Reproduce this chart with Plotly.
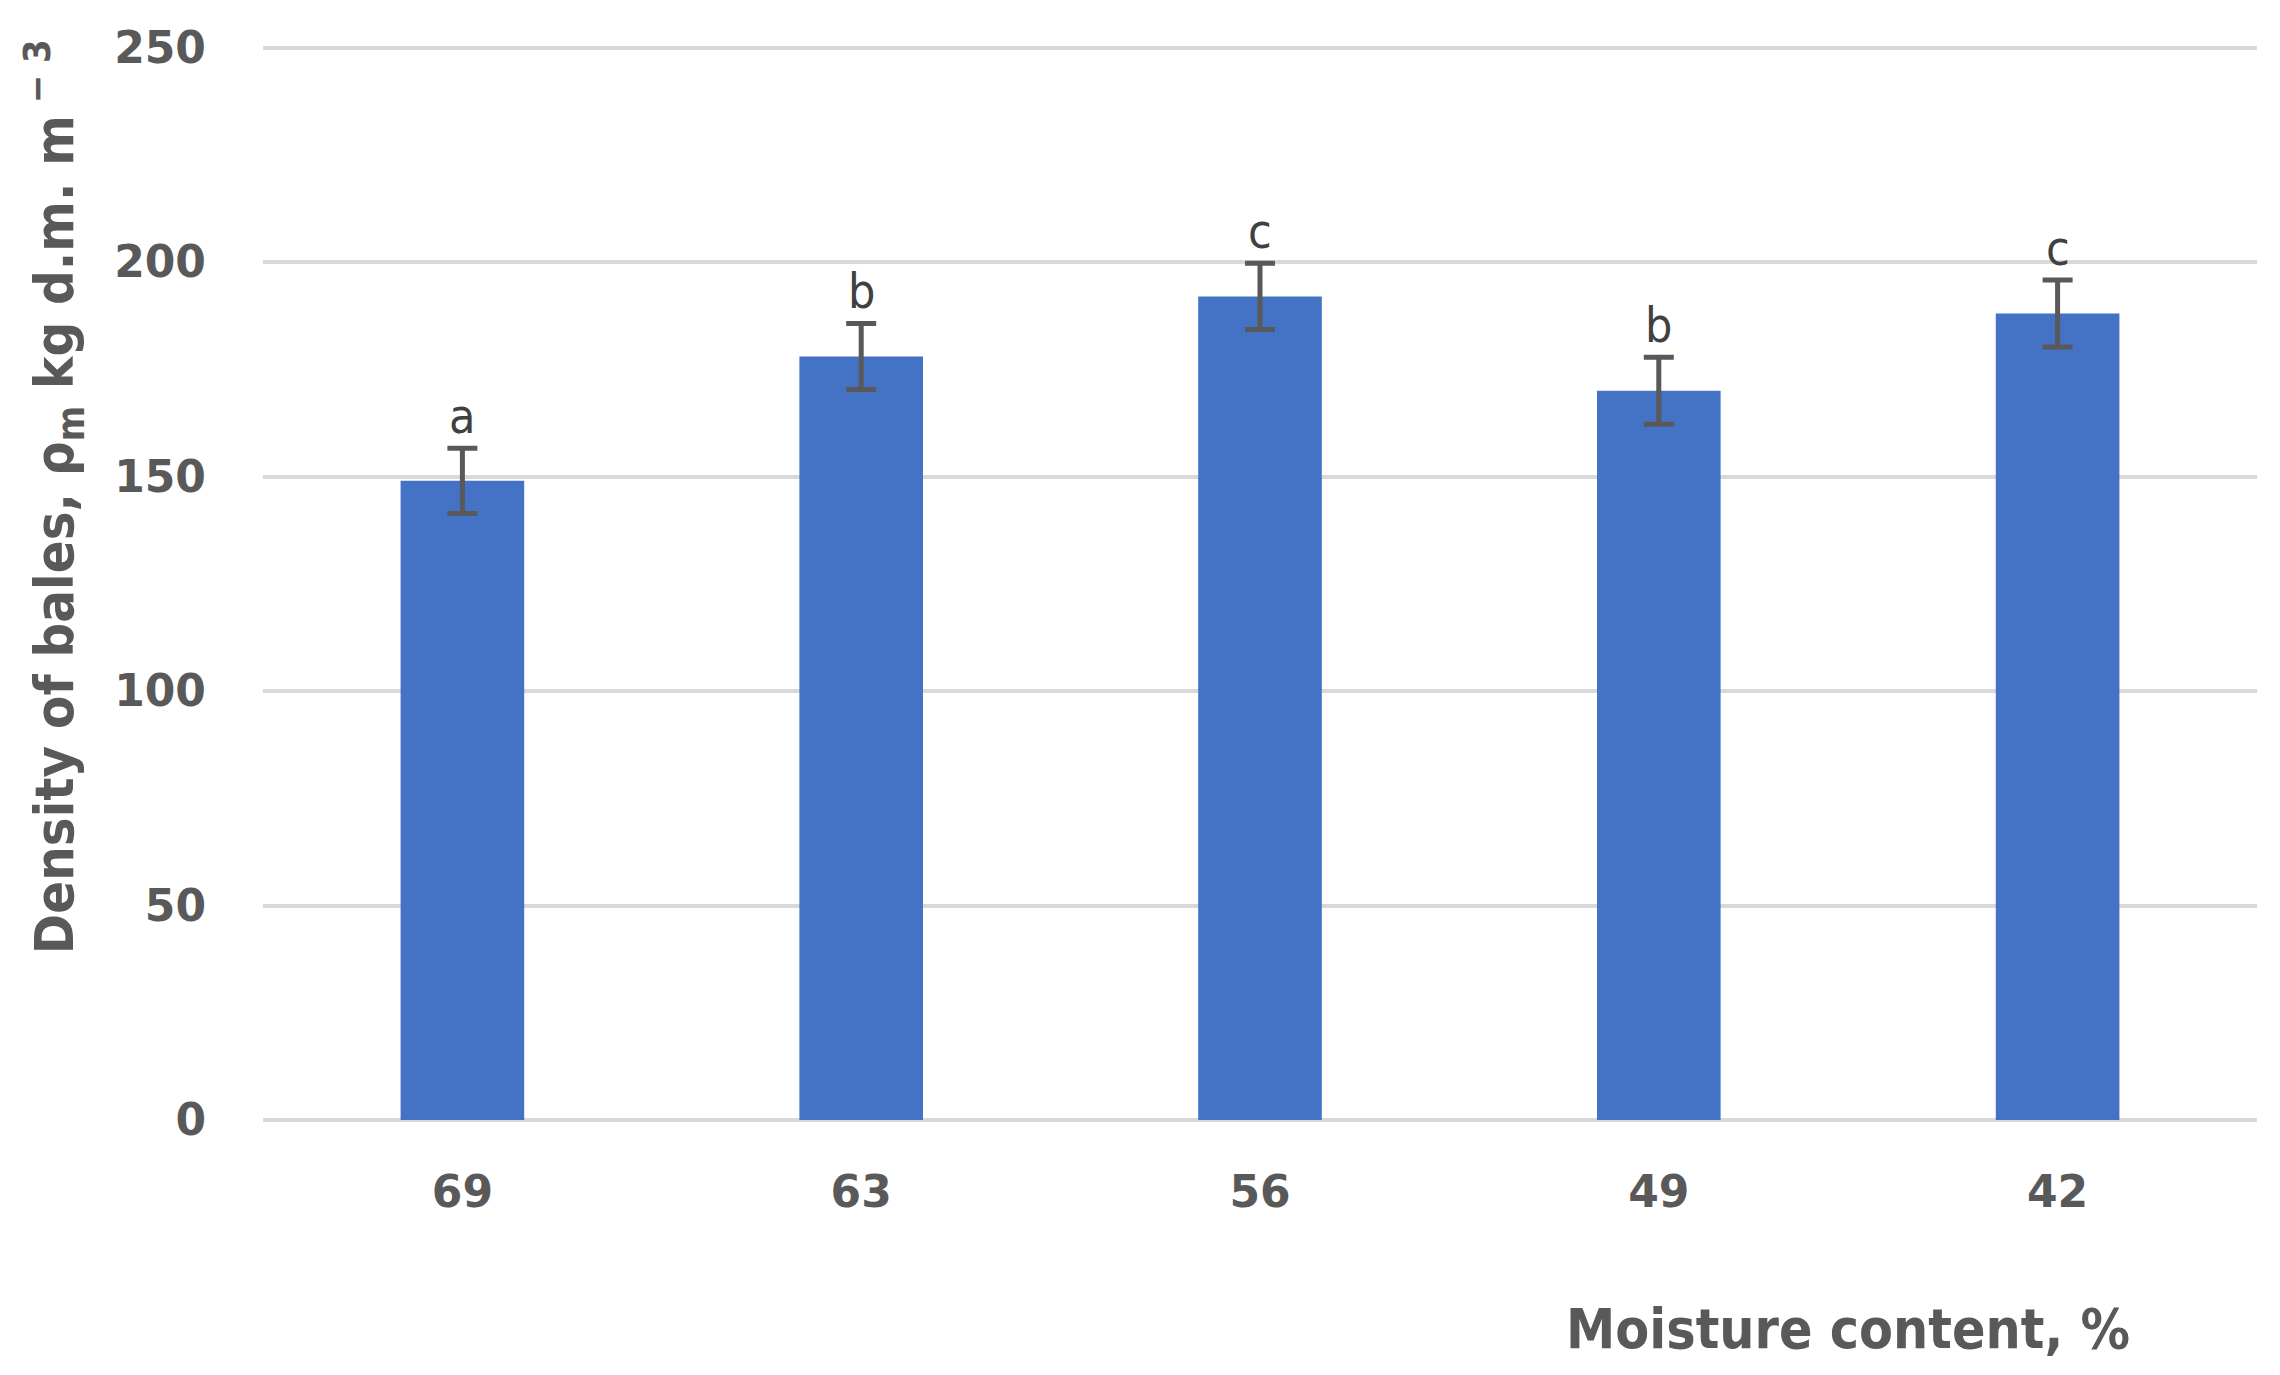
import plotly.graph_objects as go

# Data
moisture = ["69", "63", "56", "49", "42"]
density = [149, 178, 192, 170, 188]
density_err = [7.6, 7.7, 7.7, 7.8, 7.8]
group_letters = ["a", "b", "c", "b", "c"]
y_ticks = [0, 50, 100, 150, 200, 250]

BAR_BLUE = "#4472C4"
GRID_GREY = "#D9D9D9"
TEXT_GREY = "#595959"
NARROW = "Liberation Sans Narrow, DejaVu Sans Condensed, Roboto, sans-serif"

fig = go.Figure()

fig.add_trace(
    go.Bar(
        x=moisture,
        y=density,
        width=0.31,
        marker=dict(color=BAR_BLUE, line=dict(width=0)),
        error_y=dict(
            type="data",
            array=density_err,
            visible=True,
            color=TEXT_GREY,
            thickness=5,
            width=15,
        ),
        showlegend=False,
    )
)

# Significance letters above the error bars (category index as x)
for i, (val, err, letter) in enumerate(zip(density, density_err, group_letters)):
    fig.add_annotation(
        x=i, y=val + err, text=letter,
        xref="x", yref="y",
        showarrow=False, xanchor="center", yanchor="bottom", yshift=2,
        font=dict(family=NARROW, size=48, color="#404040"),
    )

# Axis titles
fig.add_annotation(
    x=-0.105, y=0.58, xref="paper", yref="paper",
    xanchor="center", yanchor="middle",
    text="Density of bales, ρ<sub>m</sub> kg d.m. m<sup> − 3</sup>",
    textangle=-90, showarrow=False,
    font=dict(family=NARROW, size=54, color=TEXT_GREY, weight="bold"),
)
fig.add_annotation(
    x=0.795, y=-0.194, xref="paper", yref="paper",
    xanchor="center", yanchor="middle",
    text="Moisture content, %",
    showarrow=False,
    font=dict(family=NARROW, size=55, color=TEXT_GREY, weight="bold"),
)

fig.update_xaxes(
    type="category",
    range=[-0.5, 4.5],
    showgrid=False,
    showline=False,
    zeroline=False,
    ticks="",
    ticklabelstandoff=42,
    tickfont=dict(family="DejaVu Sans", size=44, color=TEXT_GREY, weight="bold"),
)
fig.update_yaxes(
    range=[0, 250.6],
    tickvals=y_ticks,
    showgrid=True,
    gridcolor=GRID_GREY,
    gridwidth=4,
    zeroline=True,
    zerolinecolor=GRID_GREY,
    zerolinewidth=4,
    showline=False,
    ticks="",
    ticklabelstandoff=56,
    tickfont=dict(family="DejaVu Sans", size=44, color=TEXT_GREY, weight="bold"),
)

# the page body adds an 8px offset, so the figure is 8px smaller each way
fig.update_layout(
    width=2272,
    height=1367,
    margin=dict(l=255, r=23, t=37, b=255),
    plot_bgcolor="white",
    paper_bgcolor="white",
    bargap=0.69,
)

fig.write_html("out.html")
